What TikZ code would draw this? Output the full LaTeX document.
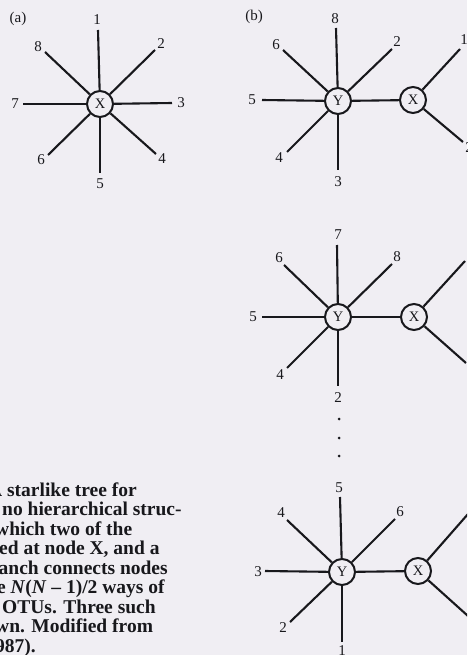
\documentclass[tikz,border=0pt]{standalone}
\usepackage{fontspec}
\setmainfont{Liberation Serif}
\definecolor{paper}{RGB}{240,238,243}
\definecolor{ink}{RGB}{24,24,28}
\begin{document}
\begin{tikzpicture}[x=1pt,y=-1pt,
  br/.style={line width=2.1pt, draw=ink},
  hub/.style={circle, draw=ink, fill=paper, line width=2pt, minimum size=26pt, inner sep=0pt,
    font=\fontsize{14.5}{14.5}\selectfont, text=ink},
  lbl/.style={font=\fontsize{15}{15}\selectfont, text=ink, inner sep=0pt},
  captxt/.style={font=\fontsize{19.5}{19.5}\selectfont\bfseries, text=ink, inner sep=0pt, anchor=base west},
  dotn/.style={circle, fill=ink, inner sep=0pt, minimum size=3pt}
]
\useasboundingbox (0,0) rectangle (467,655);
\clip (0,0) rectangle (467,655);
\fill[paper] (0,0) rectangle (467,655);

% ---------- panel (a)
\node[lbl] (pa) at (18,19) {(a)};
\node[hub] (aX) at (100,104) {X};
\foreach \n/\ex/\ey/\lx/\ly in {1/98/30/97/20, 2/155/50/161/44, 3/172/103/181/103,
    4/156/154/162/159, 5/100/173/100/184, 6/48/155/41/160, 7/23/104/15/104, 8/45/52/38/47}{
  \coordinate (ae\n) at (\ex,\ey);
  \draw[br] (aX) -- (ae\n);
  \node[lbl] (al\n) at (\lx,\ly) {\n};
}

% ---------- panel (b), top
\node[lbl] (pb) at (254,17) {(b)};
\node[hub] (b1Y) at (338,101) {Y};
\node[hub] (b1X) at (413,100) {X};
\draw[br] (b1Y) -- (b1X);
\foreach \n/\ex/\ey/\lx/\ly in {8/336/28/335/19, 2/392/49/397/42, 6/283/50/276/45,
    5/262/100/252/100, 4/287/152/279/158, 3/338/170/338/182}{
  \coordinate (b1e\n) at (\ex,\ey);
  \draw[br] (b1Y) -- (b1e\n);
  \node[lbl] (b1l\n) at (\lx,\ly) {\n};
}
\coordinate (b1xa) at (460,49);
\coordinate (b1xb) at (463,142);
\draw[br] (b1X) -- (b1xa);
\draw[br] (b1X) -- (b1xb);
\node[lbl] (b1xla) at (464,40) {1};
\node[lbl] (b1xlb) at (469,148) {2};

% ---------- panel (b), middle
\node[hub] (b2Y) at (338,317) {Y};
\node[hub] (b2X) at (414,317) {X};
\draw[br] (b2Y) -- (b2X);
\foreach \n/\ex/\ey/\lx/\ly in {7/337/245/338/235, 8/392/264/397/257, 6/284/265/279/258,
    5/262/317/253/317, 4/287/368/280/375, 2/338/386/338/398}{
  \coordinate (b2e\n) at (\ex,\ey);
  \draw[br] (b2Y) -- (b2e\n);
  \node[lbl] (b2l\n) at (\lx,\ly) {\n};
}
\coordinate (b2xa) at (465,261);
\coordinate (b2xb) at (466,363);
\draw[br] (b2X) -- (b2xa);
\draw[br] (b2X) -- (b2xb);

% ---------- dots
\node[dotn] (d1) at (339,419) {};
\node[dotn] (d2) at (339,438) {};
\node[dotn] (d3) at (339,456) {};

% ---------- panel (b), bottom
\node[hub] (b3Y) at (342,572) {Y};
\node[hub] (b3X) at (418,571) {X};
\draw[br] (b3Y) -- (b3X);
\foreach \n/\ex/\ey/\lx/\ly in {5/340/497/339/488, 6/395/519/400/512, 4/287/520/281/513,
    3/265/571/258/572, 2/290/622/283/628, 1/342/642/342/651}{
  \coordinate (b3e\n) at (\ex,\ey);
  \draw[br] (b3Y) -- (b3e\n);
  \node[lbl] (b3l\n) at (\lx,\ly) {\n};
}
\coordinate (b3xa) at (468,514);
\coordinate (b3xb) at (468,616);
\draw[br] (b3X) -- (b3xa);
\draw[br] (b3X) -- (b3xb);

% ---------- caption (cut at the left edge)
\node[captxt] (c1) at (-12,496) {A starlike tree for};
\node[captxt] (c2) at (2,515.5) {no hierarchical struc-};
\node[captxt] (c3) at (-5,535) {which two of the};
\node[captxt] (c4) at (-1,554.5) {ed at node X, and a};
\node[captxt] (c5) at (-1.5,574) {anch connects nodes};
\node[captxt] (c6) at (-3,593.5) {e \textit{N}(\textit{N} – 1)/2 ways of};
\node[captxt] (c7) at (2,613) {OTUs. Three such};
\node[captxt] (c8) at (-5,632.5) {wn. Modified from};
\node[captxt] (c9) at (-5,652) {987).};
\end{tikzpicture}
\end{document}
